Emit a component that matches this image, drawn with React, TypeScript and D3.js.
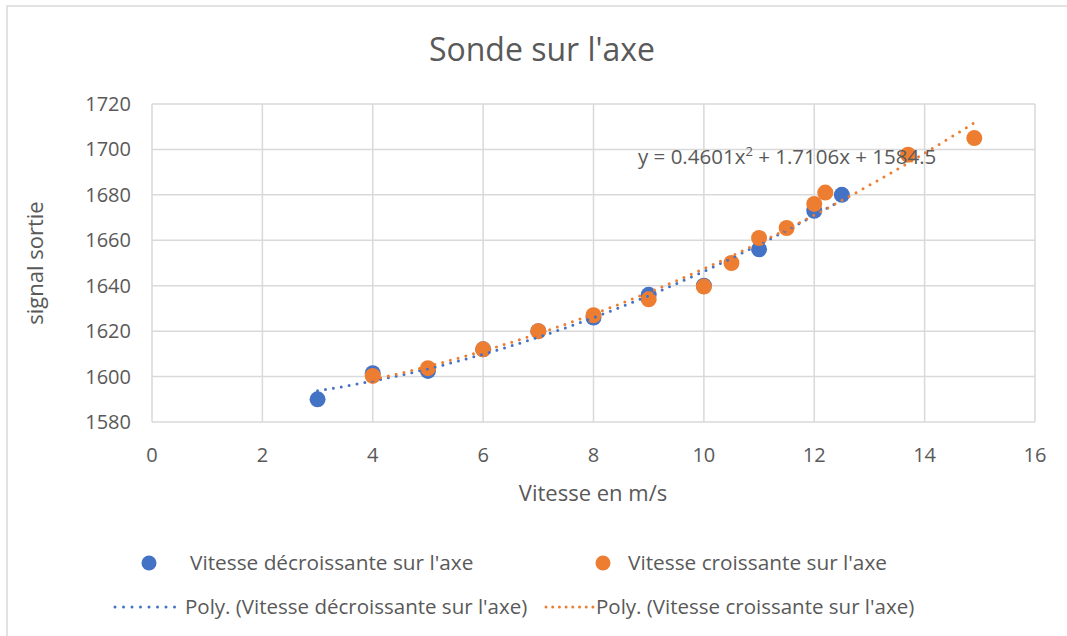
import React from 'react';
import * as d3 from 'd3';

// DATA
const decX = [3, 4, 5, 6, 7, 8, 9, 10, 11, 12, 12.5];
const decY = [1590, 1601.5, 1602.5, 1612, 1620, 1626, 1636, 1640, 1656, 1673, 1680];
const croX = [4, 5, 6, 7, 8, 9, 10, 10.5, 11, 11.5, 12, 12.2, 13.7, 14.9];
const croY = [1600.3, 1603.7, 1612, 1620, 1627, 1634, 1639.6, 1650, 1661, 1665.4, 1676, 1681, 1697.7, 1705];
const xTicks = [0, 2, 4, 6, 8, 10, 12, 14, 16];
const yTicks = [1580, 1600, 1620, 1640, 1660, 1680, 1700, 1720];

const BLUE = '#4472C4';
const ORANGE = '#ED7D31';
const TEXT = '#595959';
const GRID = '#d9d9d9';
const FONT = '"Open Sans", "Noto Sans", sans-serif';

// quadratic least squares fit, returns [a, b, c] for a*x^2 + b*x + c
function quadFit(xs: number[], ys: number[]) {
  let s0 = xs.length, s1 = 0, s2 = 0, s3 = 0, s4 = 0, t0 = 0, t1 = 0, t2 = 0;
  xs.forEach((x, i) => {
    const y = ys[i];
    s1 += x; s2 += x * x; s3 += x * x * x; s4 += x * x * x * x;
    t0 += y; t1 += x * y; t2 += x * x * y;
  });
  const m = [
    [s4, s3, s2, t2],
    [s3, s2, s1, t1],
    [s2, s1, s0, t0],
  ];
  for (let i = 0; i < 3; i++) {
    for (let j = i + 1; j < 3; j++) {
      const f = m[j][i] / m[i][i];
      for (let k = i; k < 4; k++) m[j][k] -= f * m[i][k];
    }
  }
  const r = [0, 0, 0];
  for (let i = 2; i >= 0; i--) {
    let s = m[i][3];
    for (let k = i + 1; k < 3; k++) s -= m[i][k] * r[k];
    r[i] = s / m[i][i];
  }
  return r;
}

export default function App() {
  const W = 1067, H = 636;
  const margin = { left: 152, right: 32, top: 104, bottom: 214 };
  const x = d3.scaleLinear().domain([0, 16]).range([margin.left, W - margin.right]);
  const y = d3.scaleLinear().domain([1580, 1720]).range([H - margin.bottom, margin.top]);

  const trend = (xs: number[], ys: number[]) => {
    const [a, b, c] = quadFit(xs, ys);
    const lo = d3.min(xs)!, hi = d3.max(xs)!;
    const pts = d3.range(0, 101).map((i) => {
      const xv = lo + ((hi - lo) * i) / 100;
      return [xv, a * xv * xv + b * xv + c] as [number, number];
    });
    return d3.line<[number, number]>().x((d) => x(d[0])).y((d) => y(d[1]))(pts) || '';
  };

  const dotted = { strokeWidth: 3, strokeDasharray: '0 8', strokeLinecap: 'round' as const, fill: 'none' };

  return (
    <svg width={W} height={H} style={{ position: 'absolute', left: 0, top: 0, background: '#fff' }}>
      <rect x={7} y={6} width={W} height={H} fill="#fff" stroke={GRID} strokeWidth={1.5} />
      <text x={542} y={50} dy="0.35em" textAnchor="middle" fontFamily={FONT} fontSize={32} fill={TEXT}>
        Sonde sur l'axe
      </text>

      {/* GRID */}
      {yTicks.map((t) => (
        <line key={'gy' + t} x1={x(0)} x2={x(16)} y1={y(t)} y2={y(t)} stroke={GRID} strokeWidth={1.5} />
      ))}
      {xTicks.map((t) => (
        <line key={'gx' + t} x1={x(t)} x2={x(t)} y1={y(1580)} y2={y(1720)} stroke={GRID} strokeWidth={1.5} />
      ))}

      {/* TICK LABELS */}
      {yTicks.map((t) => (
        <text key={'ty' + t} x={131} y={y(t)} dy="0.35em" textAnchor="end" fontFamily={FONT} fontSize={20} fill={TEXT}>
          {t}
        </text>
      ))}
      {xTicks.map((t) => (
        <text key={'tx' + t} x={x(t)} y={455} dy="0.35em" textAnchor="middle" fontFamily={FONT} fontSize={20} fill={TEXT}>
          {t}
        </text>
      ))}

      {/* AXIS TITLES */}
      <text x={593} y={493} dy="0.35em" textAnchor="middle" fontFamily={FONT} fontSize={22} fill={TEXT}>
        Vitesse en m/s
      </text>
      <text transform="translate(35,263) rotate(-90)" dy="0.35em" textAnchor="middle" fontFamily={FONT} fontSize={22} fill={TEXT}>
        signal sortie
      </text>

      {/* POINTS */}
      {decX.map((d, i) => (
        <circle key={'d' + i} cx={x(d)} cy={y(decY[i])} r={8} fill={BLUE} />
      ))}
      {croX.map((d, i) => (
        <circle key={'c' + i} cx={x(d)} cy={y(croY[i])} r={8} fill={ORANGE} />
      ))}

      {/* TRENDLINES */}
      <path d={trend(decX, decY)} stroke={BLUE} {...dotted} />
      <path d={trend(croX, croY)} stroke={ORANGE} {...dotted} />

      <text x={638} y={157} dy="0.35em" fontFamily={FONT} fontSize={20.5} fill={TEXT}>
        y = 0.4601x<tspan dy="-8" fontSize={13}>2</tspan>
        <tspan dy="8"> + 1.7106x + 1584.5</tspan>
      </text>

      {/* LEGEND */}
      <circle cx={149} cy={563} r={7.5} fill={BLUE} />
      <text x={190} y={563} dy="0.35em" fontFamily={FONT} fontSize={20.8} fill={TEXT}>
        Vitesse décroissante sur l'axe
      </text>
      <circle cx={603} cy={563} r={7.5} fill={ORANGE} />
      <text x={628} y={563} dy="0.35em" fontFamily={FONT} fontSize={20.8} fill={TEXT}>
        Vitesse croissante sur l'axe
      </text>
      <line x1={115} x2={183} y1={607} y2={607} stroke={BLUE} {...dotted} strokeDasharray="0 8.5" />
      <text x={185} y={607} dy="0.35em" fontFamily={FONT} fontSize={20.5} fill={TEXT}>
        Poly. (Vitesse décroissante sur l'axe)
      </text>
      <line x1={546} x2={593} y1={607} y2={607} stroke={ORANGE} {...dotted} strokeDasharray="0 6.7" />
      <text x={596} y={607} dy="0.35em" fontFamily={FONT} fontSize={20.5} fill={TEXT}>
        Poly. (Vitesse croissante sur l'axe)
      </text>
    </svg>
  );
}
